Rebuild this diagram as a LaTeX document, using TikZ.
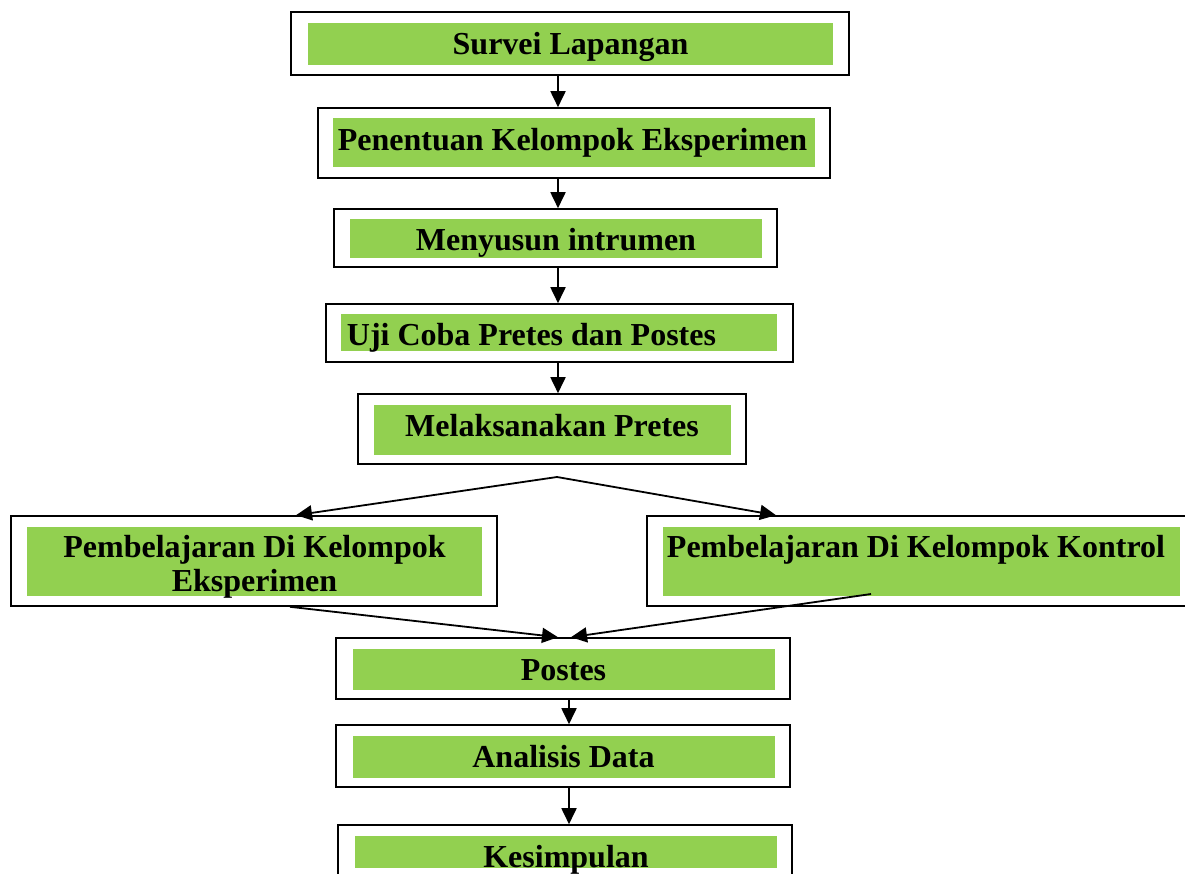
\documentclass[tikz,border=0pt]{standalone}
\usepackage{fontspec}
\setmainfont{Liberation Serif}
\usetikzlibrary{arrows.meta,fit}
\definecolor{grn}{HTML}{92D050}
\begin{document}
\begin{tikzpicture}[x=1pt,y=-1pt,
  outerbox/.style={draw, line width=1.6pt, inner sep=0pt, rectangle},
  greenbox/.style={fill=grn, inner sep=0pt, rectangle},
  lbl/.style={font=\bfseries\fontsize{32}{36}\selectfont, anchor=base, inner sep=0pt, align=center},
  arr/.style={line width=1.8pt, -{Triangle[length=16pt,width=15pt]}}]
\useasboundingbox (0,0) rectangle (1185,873);
\clip (0,0) rectangle (1185,873);
% boxes
\node[outerbox, fit={(291,12) (849,75)}] (b1) {};
\node[greenbox, fit={(308,23) (833,65)}] (g1) {};
\node[lbl] (t1) at (570.5,54) {Survei Lapangan};

\node[outerbox, fit={(318,108) (830,178)}] (b2) {};
\node[greenbox, fit={(333,118) (815,167)}] (g2) {};
\node[lbl] (t2) at (572.5,150) {Penentuan Kelompok Eksperimen};

\node[outerbox, fit={(334,209) (777,267)}] (b3) {};
\node[greenbox, fit={(350,219) (762,258)}] (g3) {};
\node[lbl] (t3) at (556,250) {Menyusun intrumen};

\node[outerbox, fit={(326,304) (793,362)}] (b4) {};
\node[greenbox, fit={(341,314) (777,351)}] (g4) {};
\node[lbl] (t4) at (531.5,345) {Uji Coba Pretes dan Postes};

\node[outerbox, fit={(358,394) (746,464)}] (b5) {};
\node[greenbox, fit={(374,405) (731,455)}] (g5) {};
\node[lbl] (t5) at (552,436) {Melaksanakan Pretes};

\node[outerbox, fit={(11,516) (497,606)}] (b6) {};
\node[greenbox, fit={(27,527) (482,596)}] (g6) {};
\node[lbl] (t6a) at (254.5,557) {Pembelajaran Di Kelompok};
\node[lbl] (t6b) at (254.5,591) {Eksperimen};

\node[outerbox, fit={(647,516) (1210,606)}] (b7) {};
\node[greenbox, fit={(663,527) (1180,596)}] (g7) {};
\node[lbl] (t7) at (916,557) {Pembelajaran Di Kelompok Kontrol};

\node[outerbox, fit={(336,638) (790,699)}] (b8) {};
\node[greenbox, fit={(353,649) (775,690)}] (g8) {};
\node[lbl] (t8) at (563.5,680) {Postes};

\node[outerbox, fit={(336,725) (790,787)}] (b9) {};
\node[greenbox, fit={(353,736) (775,778)}] (g9) {};
\node[lbl] (t9) at (563.5,767) {Analisis Data};

\node[outerbox, fit={(338,825) (792,900)}] (b10) {};
\node[greenbox, fit={(355,836) (777,868)}] (g10) {};
\node[lbl] (t10) at (566,867) {Kesimpulan};

% connectors
\draw[arr] (b1.south -| 558,0) -- (b2.north -| 558,0);
\draw[arr] (b2.south -| 558,0) -- (b3.north -| 558,0);
\draw[arr] (b3.south -| 558,0) -- (b4.north -| 558,0);
\draw[arr] (b4.south -| 558,0) -- (b5.north -| 558,0);
\coordinate (split) at (557,477);
\draw[arr] (split) -- (b6.north -| 296,0);
\draw[arr] (split) -- (b7.north -| 776,0);
\draw[arr] (b6.south -| 290,0) -- (b8.north -| 558,0);
\coordinate (kstart) at (871,594);
\draw[arr] (kstart) -- (b8.north -| 571,0);
\draw[arr] (b8.south -| 569,0) -- (b9.north -| 569,0);
\draw[arr] (b9.south -| 569,0) -- (b10.north -| 569,0);
\end{tikzpicture}
\end{document}
